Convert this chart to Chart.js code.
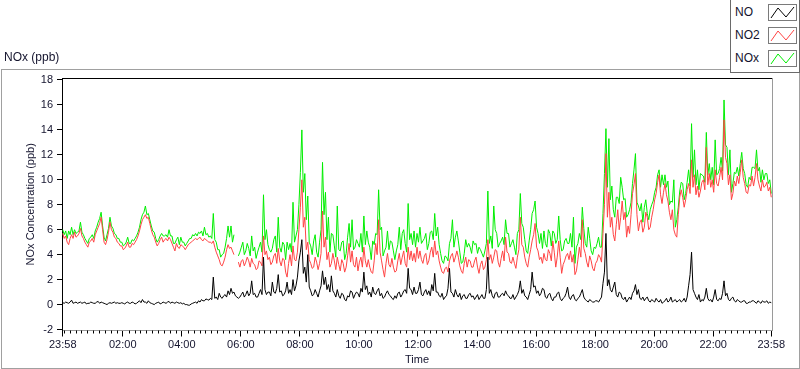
<!DOCTYPE html>
<html>
<head>
<meta charset="utf-8">
<script src="https://cdn.jsdelivr.net/npm/chart.js@4.4.1/dist/chart.umd.min.js"></script>
<style>
  body { margin: 0; background: #fff; }
  #wrap { position: relative; width: 800px; height: 369px; overflow: hidden; font-family: "Liberation Sans", Arial, sans-serif; color: #14142e; }
  #frame { position: absolute; left: 1px; top: 69px; width: 799px; height: 300px; box-sizing: border-box; border: 1px solid #a0a0a0; }
  #chart { position: absolute; left: 0; top: 0; }
  #title { position: absolute; left: 4px; top: 50px; font-size: 12px; line-height: 14px; }
  #legend { position: absolute; left: 730px; top: 0; width: 70px; height: 73px; box-sizing: border-box; background: #fff;
            border: 1px solid #6a6a6a; border-top: none; }
  .row { position: absolute; left: 0; width: 68px; height: 17px; }
  .row span { position: absolute; left: 4px; top: 1px; font-size: 12px; line-height: 15px; }
  .row svg { position: absolute; left: 37px; top: 0; border: 1px solid #7a7a7a; background: #fff; }
</style>
</head>
<body>
<div id="wrap">
  <div id="frame"></div>
  <canvas id="chart" width="800" height="369"></canvas>
  <div id="title">NOx (ppb)</div>
  <div id="legend"></div>
</div>
<script>
// readings every 3 minutes starting 23:58, one line = one hour
const sampleStep = 3;

const no = [
  0.15,0.1, 0.2,0.15, 0.1,0.2, 0.35,0.1, 0.15,0.2, 0.1,0.15, 0.2,0.1, 0.15,0.2, 0.05,0.1, 0.1,0.2,
  0.15,0.1, 0.1,0.2, 0.25,0.1, 0.2,0.15, 0.1,0.05, 0.0,0.1, 0.15,0.1, 0.15,0.2, 0.1,0.15, 0.1,0.1,
  0.15,0.1, 0.05,0.15, 0.2,0.1, 0.1,0.2, 0.15,0.05, 0.1,0.2, 0.3,0.15, 0.4,0.2, 0.2,0.1, 0.3,0.15,
  0.1,0.05, 0.0,0.1, 0.15,0.2, 0.05,0.1, 0.2,0.15, 0.1,0.2, 0.25,0.1, 0.2,0.15, 0.1,0.2, 0.15,0.1,
  0.15,0.05, 0.1,0.0, 0.0,-0.05, -0.05,0.05, 0.1,0.15, 0.2,0.1, 0.3,0.2, 0.4,0.3, 0.3,0.45, 0.4,0.35,
  0.5,0.4, 2.2,0.5, 0.6,0.4, 0.9,0.6, 0.5,0.7, 0.8,0.6, 1.1,0.8, 1.3,0.9, 1.0,0.7, 0.6,0.5,
  0.6,0.8, 1.0,0.6, 0.8,1.1, 0.7,0.9, 1.9,0.8, 0.9,0.6, 0.6,0.9, 1.2,0.8, 3.8,1.2, 0.8,1.0,
  1.0,0.7, 1.8,1.0, 0.9,1.3, 2.4,1.0, 1.1,0.7, 0.8,1.1, 1.8,0.9, 1.2,0.8, 2.0,1.1, 1.5,2.2,
  3.5,4.2, 5.2,2.5, 3.0,1.8, 4.0,1.4, 1.1,0.7, 0.8,1.2, 0.9,0.6, 1.1,1.5, 2.7,1.6, 2.2,1.2,
  1.6,1.0, 2.3,1.1, 0.9,0.6, 1.2,0.7, 0.5,0.9, 0.8,0.4, 0.3,0.7, 0.6,1.1, 1.0,0.5, 0.8,1.0,
  0.9,0.6, 1.3,1.0, 2.6,1.2, 1.5,0.8, 1.0,0.6, 1.4,0.9, 0.8,1.1, 1.3,0.7, 0.9,0.5, 0.6,0.9,
  1.1,0.8, 0.7,0.5, 0.4,0.7, 0.5,0.9, 1.0,0.6, 0.8,1.1, 1.2,0.9, 2.9,1.3, 1.2,0.8, 1.4,0.9,
  0.9,1.2, 1.8,0.8, 0.7,1.0, 1.2,0.8, 1.1,0.7, 1.6,1.1, 2.5,1.0, 1.0,0.7, 0.6,0.9, 0.4,0.6,
  0.7,1.3, 2.9,1.0, 0.9,0.6, 1.2,0.8, 0.6,0.9, 0.4,0.7, 0.8,0.5, 0.5,0.8, 0.9,0.6, 0.7,0.4,
  0.6,0.8, 0.4,0.6, 0.8,0.5, 0.5,1.2, 3.8,0.9, 1.2,0.7, 0.5,0.9, 1.0,0.6, 0.6,0.8, 0.9,0.7,
  1.1,0.8, 0.7,0.5, 0.5,0.8, 0.4,0.6, 0.8,1.1, 1.9,0.9, 1.2,0.7, 0.6,0.4, 0.8,1.2, 2.6,1.4,
  1.5,0.9, 1.1,0.7, 0.9,1.3, 1.2,0.6, 0.5,0.8, 0.9,0.5, 0.3,0.6, 0.6,0.9, 1.0,0.5, 0.3,0.5,
  0.6,0.9, 1.4,0.6, 0.4,0.7, 0.8,0.4, 0.3,0.5, 0.6,0.9, 1.2,0.6, 0.4,0.3, 0.2,0.4, 0.3,0.2,
  0.2,0.3, 0.3,0.2, 0.4,0.6, 1.7,2.6, 5.7,1.5, 2.0,1.2, 1.0,1.4, 1.8,0.8, 0.6,1.0, 0.9,0.5,
  0.4,0.6, 0.2,0.4, 0.6,0.4, 0.9,1.1, 1.6,0.8, 1.2,0.5, 0.4,0.6, 0.3,0.5, 0.6,0.3, 0.2,0.4,
  0.3,0.2, 0.5,0.3, 0.2,0.4, 0.1,0.2, 0.3,0.5, 0.2,0.3, 0.6,0.2, 0.3,0.4, 0.2,0.3, 0.4,0.2,
  0.3,0.5, 0.2,0.6, 1.5,2.4, 4.2,1.2, 0.9,0.6, 0.4,0.8, 0.2,0.4, 0.3,0.6, 1.3,0.5, 0.3,0.4,
  0.2,0.6, 1.2,0.4, 0.3,0.5, 0.4,0.9, 1.9,0.7, 0.9,0.4, 0.3,0.5, 0.6,0.3, 0.2,0.4, 0.3,0.2,
  0.2,0.3, 0.3,0.1, 0.1,0.2, 0.2,0.3, 0.3,0.2, 0.1,0.3, 0.2,0.1, 0.3,0.2, 0.2,0.3, 0.1,0.2, 0.15
];

const no2 = [
  5.7,5.3, 5.5,5.0, 4.8,5.3, 5.6,5.3, 5.8,5.4, 5.5,5.7, 6.1,5.5, 5.3,5.0, 4.8,4.6, 5.0,5.1,
  5.3,5.0, 5.6,5.9, 6.2,6.5, 7.0,6.0, 5.0,4.8, 5.2,5.8, 6.6,6.0, 5.8,5.4, 5.3,5.0, 4.9,4.7,
  4.7,4.4, 4.5,4.7, 5.0,4.6, 4.6,4.9, 4.8,5.0, 5.2,5.5, 5.9,6.4, 6.8,7.0, 7.2,6.9, 7.0,6.5,
  6.0,5.6, 5.4,5.0, 4.7,4.9, 5.2,5.4, 5.0,5.2, 5.3,5.1, 5.4,5.2, 4.9,4.6, 4.3,4.9, 4.6,4.5,
  4.8,4.7, 4.6,4.4, 4.6,4.8, 4.9,5.0, 5.1,5.2, 5.3,5.2, 5.3,5.4, 5.2,5.1, 5.3,5.2, 5.1,5.0,
  5.0,4.9, 5.1,4.6, 4.2,3.9, 3.6,3.2, 3.1,3.4, 3.8,4.4, 4.8,4.5, 4.6,4.3, 4.0,null, null,3.4,
  3.0,3.5, 3.6,3.1, 3.4,3.8, 3.5,3.0, 3.7,3.3, 3.2,2.8, 2.9,3.5, 3.4,3.1, 5.5,4.0, 4.3,3.6,
  3.8,3.2, 3.4,3.9, 4.1,3.3, 4.5,3.5, 3.1,3.7, 3.6,2.6, 2.2,3.3, 4.0,3.1, 4.7,3.6, 3.5,4.2,
  6.0,7.8, 10.0,6.2, 7.0,4.4, 5.0,3.6, 3.3,2.9, 3.0,3.8, 3.4,2.8, 3.3,4.1, 7.5,4.6, 5.4,3.6,
  4.2,3.0, 3.3,4.1, 3.5,2.8, 3.8,3.2, 2.7,3.6, 3.3,2.6, 3.0,3.9, 4.9,3.4, 4.3,3.2, 3.0,3.8,
  2.7,3.4, 3.8,3.0, 4.6,3.5, 3.0,3.6, 3.0,2.6, 2.5,3.5, 4.9,4.0, 6.8,4.2, 3.5,2.8, 2.2,3.3,
  4.1,3.2, 3.0,3.7, 3.0,2.6, 2.7,3.5, 4.1,3.2, 3.8,4.3, 3.3,3.0, 4.6,3.6, 4.3,3.5, 4.1,3.4,
  4.6,3.7, 4.3,3.6, 3.3,3.9, 4.1,3.2, 3.5,4.2, 4.6,3.8, 5.1,4.0, 4.3,3.5, 3.0,2.6, 2.5,2.9,
  3.0,2.6, 3.5,3.9, 4.1,3.4, 3.8,4.3, 3.8,3.1, 2.7,2.5, 3.3,3.8, 3.0,3.6, 3.5,3.0, 3.0,3.5,
  3.8,3.0, 2.5,3.2, 3.5,2.8, 3.0,3.6, 5.2,3.6, 4.0,3.3, 3.8,4.4, 4.3,3.4, 3.0,3.7, 4.3,3.5,
  5.4,4.2, 4.1,3.4, 3.3,3.8, 3.3,2.9, 3.8,4.4, 7.0,4.8, 4.6,3.8, 3.3,3.0, 3.8,4.4, 5.1,5.6,
  6.5,4.6, 4.3,3.6, 3.8,3.3, 4.1,3.6, 3.5,4.4, 4.1,3.5, 5.1,4.2, 3.0,3.8, 5.1,3.8, 2.5,3.2,
  3.5,3.9, 4.1,3.6, 4.3,3.4, 4.0,2.4, 2.7,3.6, 4.6,3.8, 6.8,4.5, 4.1,3.4, 3.0,3.9, 3.5,2.9,
  2.7,3.3, 3.5,4.0, 3.8,3.4, 5.7,8.0, 12.1,7.0, 9.0,6.2, 7.0,5.6, 5.1,6.4, 7.6,6.0, 7.0,8.3,
  6.8,7.4, 5.4,6.3, 5.7,7.2, 8.9,9.6, 10.5,7.2, 5.9,6.6, 6.8,5.8, 6.2,7.4, 7.0,6.0, 6.2,7.0,
  7.6,8.4, 8.9,9.8, 10.4,8.8, 8.1,9.0, 9.7,8.8, 8.3,7.4, 6.8,7.6, 6.0,5.6, 5.4,7.2, 8.6,9.2,
  8.6,7.8, 8.4,9.2, 9.7,8.9, 11.6,9.4, 10.4,8.8, 9.5,8.6, 9.1,9.8, 10.0,9.2, 12.6,9.6, 10.5,9.4,
  10.0,9.0, 10.8,9.7, 9.5,10.2, 11.0,10.0, 14.8,11.8, 11.3,9.6, 10.4,8.4, 8.9,9.9, 9.5,10.3, 9.7,10.6,
  11.6,10.2, 9.7,9.0, 8.9,9.6, 9.5,10.3, 9.5,10.2, 11.3,10.0, 9.5,9.1, 10.0,9.4, 9.5,9.8, 9.1,9.4, 8.6
];

const nox = [
  6.0,5.6, 5.9,5.3, 5.9,5.6, 6.2,5.6, 6.0,5.7, 5.8,5.9, 6.6,5.8, 5.6,5.3, 5.1,4.9, 5.3,5.4,
  5.6,5.3, 5.9,6.2, 6.6,6.9, 7.4,6.3, 5.4,5.1, 5.6,6.1, 7.0,6.3, 6.1,5.7, 5.6,5.3, 5.3,5.0,
  5.0,4.7, 4.8,5.0, 5.4,4.9, 4.9,5.2, 5.1,5.3, 5.5,5.8, 6.2,6.8, 7.2,7.4, 7.9,7.2, 7.3,6.8,
  6.3,5.9, 5.8,5.3, 5.0,5.2, 5.5,5.7, 5.5,5.5, 5.6,5.4, 6.0,5.5, 5.5,4.9, 4.9,5.2, 5.4,4.8,
  5.4,5.0, 5.0,4.7, 4.9,5.1, 5.3,5.3, 5.6,5.5, 5.7,5.5, 5.8,5.7, 5.9,5.5, 6.2,5.6, 5.7,5.4,
  5.5,5.3, 7.3,5.2, 5.0,4.4, 4.4,3.8, 4.0,4.1, 4.6,5.3, 6.3,5.4, 6.3,5.0, 5.6,null, null,3.9,
  4.2,4.6, 5.0,4.0, 4.3,4.9, 4.5,3.9, 5.5,4.3, 4.6,3.7, 4.2,4.6, 5.0,4.2, 8.8,5.2, 6.0,4.8,
  4.4,4.2, 4.5,5.2, 5.5,4.2, 7.0,4.6, 4.2,5.0, 4.8,3.6, 5.0,4.4, 4.9,4.2, 8.2,5.0, 5.5,6.0,
  8.0,10.6, 14.0,9.0, 10.5,6.8, 8.7,5.0, 4.7,4.0, 5.1,5.6, 4.2,3.8, 5.0,6.0, 11.4,7.2, 9.0,5.2,
  7.0,4.2, 5.7,5.6, 4.7,3.8, 7.9,4.4, 4.3,5.0, 5.1,3.6, 4.1,5.4, 6.5,4.6, 6.8,4.4, 4.6,5.2,
  4.9,4.6, 5.7,4.2, 7.1,4.8, 5.9,5.0, 4.6,3.6, 5.1,4.8, 5.7,5.6, 9.2,6.0, 6.2,3.9, 4.3,4.6,
  5.9,4.4, 5.1,5.0, 4.3,3.6, 4.3,4.8, 6.2,4.4, 5.7,6.0, 4.9,4.2, 8.1,5.2, 5.7,4.8, 5.9,4.6,
  5.7,5.0, 6.2,4.9, 5.1,5.3, 5.7,4.4, 4.9,5.8, 5.9,5.2, 7.3,5.5, 6.2,4.8, 4.1,3.5, 3.3,3.9,
  3.8,3.5, 4.9,5.3, 6.8,4.6, 5.4,5.9, 5.1,4.2, 3.3,3.4, 4.1,5.2, 4.6,4.9, 4.6,4.1, 5.1,4.8,
  4.9,4.1, 4.6,4.4, 4.1,3.8, 4.3,4.9, 9.1,4.9, 5.5,4.5, 7.9,6.0, 5.7,4.6, 4.9,5.1, 5.4,4.8,
  6.8,5.7, 5.7,4.6, 4.9,5.2, 4.6,4.0, 5.7,6.0, 8.9,6.5, 6.2,5.2, 4.3,4.1, 5.1,6.0, 7.3,7.6,
  8.3,6.2, 5.7,4.9, 5.7,4.5, 5.9,4.9, 4.6,6.0, 5.7,4.7, 5.9,5.7, 4.9,5.2, 7.1,5.2, 4.3,4.4,
  5.1,5.3, 4.9,4.9, 5.7,4.6, 7.0,3.3, 4.6,4.9, 5.7,5.2, 7.8,6.1, 4.9,4.6, 6.2,5.3, 4.3,4.0,
  4.6,4.5, 4.9,5.4, 4.6,4.6, 7.3,10.5, 14.1,9.4, 13.3,8.4, 9.5,7.6, 7.0,8.6, 8.6,8.1, 10.2,9.4,
  8.4,8.5, 7.0,7.2, 7.6,8.2, 9.7,10.8, 12.1,8.2, 7.9,7.5, 8.1,6.6, 7.8,8.4, 7.3,6.8, 7.6,8.0,
  8.3,9.0, 9.4,10.4, 10.8,9.4, 10.4,9.6, 10.4,9.4, 9.9,8.0, 8.3,8.2, 10.0,6.2, 6.8,7.8, 9.1,9.8,
  9.7,8.4, 8.9,9.8, 10.8,9.5, 14.5,10.2, 12.4,9.6, 10.8,9.2, 10.5,10.4, 10.3,9.8, 13.8,10.4, 11.3,10.0,
  11.0,9.6, 13.2,10.4, 10.5,10.9, 11.8,10.7, 16.4,12.8, 12.6,10.4, 12.4,9.0, 9.7,10.6, 10.5,11.0, 10.3,11.3,
  12.2,10.9, 10.5,9.6, 9.4,10.2, 10.0,11.0, 11.0,10.9, 12.4,10.7, 11.0,9.8, 10.8,10.0, 10.5,10.5, 9.7,10.0, 8.9
];

// x axis: minutes since 23:58
const tickMinutes = [0, 122, 242, 362, 482, 602, 722, 842, 962, 1082, 1202, 1322, 1440];
const tickLabels = ['23:58', '02:00', '04:00', '06:00', '08:00', '10:00', '12:00',
                    '14:00', '16:00', '18:00', '20:00', '22:00', '23:58'];
const minorStep = 12;
const yTicks = [-2, 0, 2, 4, 6, 8, 10, 12, 14, 16, 18];

const labelColor = '#14142e';
const font = { family: '"Liberation Sans", Arial, sans-serif', size: 11 };

let toPoints = arr => arr.map((v, i) => ({ x: i * sampleStep, y: v }));

let framePlugin = {
  id: 'frame',
  afterDraw: chart => {
    let ctx = chart.ctx,
        area = chart.chartArea,
        xs = chart.scales.x;
    ctx.save();
    ctx.lineWidth = 1;
    ctx.strokeStyle = '#000';
    // minor ticks on the time axis
    for (let m = 2; m < 1440; m += minorStep) {
      if (tickMinutes.includes(m)) continue;
      let px = Math.round(xs.getPixelForValue(m)) + 0.5;
      ctx.beginPath();
      ctx.moveTo(px, area.bottom);
      ctx.lineTo(px, area.bottom + 3);
      ctx.stroke();
    }
    ctx.beginPath();
    ctx.moveTo(area.left, Math.round(area.top) + 0.5);
    ctx.lineTo(area.right, Math.round(area.top) + 0.5);
    ctx.stroke();
    ctx.strokeStyle = '#9a9a9a';
    ctx.beginPath();
    ctx.moveTo(Math.round(area.right) + 0.5, area.top);
    ctx.lineTo(Math.round(area.right) + 0.5, area.bottom);
    ctx.stroke();
    ctx.restore();
  }
};

let chart = new Chart(document.getElementById('chart'), {
  type: 'line',
  data: {
    datasets: [
      { label: 'NO', data: toPoints(no), borderColor: '#000000' },
      { label: 'NO2', data: toPoints(no2), borderColor: '#ff4444' },
      { label: 'NOx', data: toPoints(nox), borderColor: '#00ee00' }
    ]
  },
  options: {
    responsive: false,
    animation: false,
    devicePixelRatio: 1,
    layout: { padding: { top: 78, right: 28, left: 0, bottom: 0 } },
    elements: {
      point: { radius: 0 },
      line: { borderWidth: 1, tension: 0 }
    },
    spanGaps: false,
    plugins: { legend: { display: false }, tooltip: { enabled: false } },
    scales: {
      x: {
        type: 'linear',
        min: -1.5,
        max: 1441.5,
        afterBuildTicks: s => { s.ticks = tickMinutes.map(v => ({ value: v })); },
        afterFit: s => { s.height = 38.5; },
        ticks: {
          autoSkip: false, maxRotation: 0, padding: 2, color: labelColor, font: font,
          callback: (v, i) => tickLabels[i]
        },
        grid: { drawOnChartArea: false, tickLength: 6, tickColor: '#000' },
        border: { color: '#9a9a9a' },
        title: { display: true, text: 'Time', color: labelColor, font: font, padding: { top: 0, bottom: 2 } }
      },
      y: {
        min: -2.08,
        max: 18.16,
        afterBuildTicks: s => { s.ticks = yTicks.map(v => ({ value: v })); },
        afterFit: s => { s.width = 62; },
        ticks: { padding: 4, color: labelColor, font: font },
        grid: { drawOnChartArea: false, tickLength: 5, tickColor: '#000' },
        border: { color: '#000' },
        title: { display: true, text: 'NOx Concentration (ppb)', color: labelColor, font: font, padding: { top: 24, bottom: 0 } }
      }
    }
  },
  plugins: [framePlugin]
});

// legend box built from the datasets
let legend = document.getElementById('legend');
chart.data.datasets.forEach((ds, i) => {
  let row = document.createElement('div');
  row.className = 'row';
  row.style.top = (4 + i * 23) + 'px';
  row.innerHTML = '<span>' + ds.label + '</span>' +
    '<svg width="27" height="15"><polyline points="2,13 9,3 17,12 25,2" fill="none" stroke="' +
    ds.borderColor + '" stroke-width="1"/></svg>';
  legend.appendChild(row);
});
</script>
</body>
</html>
